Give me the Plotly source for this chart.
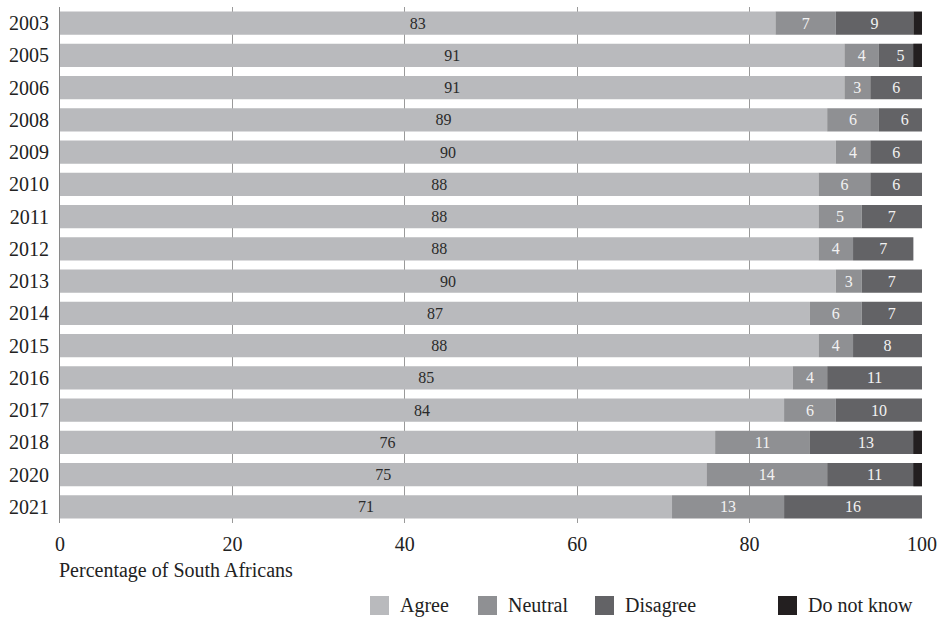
import plotly.graph_objects as go

years = ["2003", "2005", "2006", "2008", "2009", "2010", "2011", "2012",
         "2013", "2014", "2015", "2016", "2017", "2018", "2020", "2021"]
agree = [83, 91, 91, 89, 90, 88, 88, 88, 90, 87, 88, 85, 84, 76, 75, 71]
neutral = [7, 4, 3, 6, 4, 6, 5, 4, 3, 6, 4, 4, 6, 11, 14, 13]
disagree = [9, 5, 6, 6, 6, 6, 7, 7, 7, 7, 8, 11, 10, 13, 11, 16]
dont_know = [1, 1, 0, 0, 0, 0, 0, 0, 0, 0, 0, 0, 0, 1, 1, 0]

x_ticks = [0, 20, 40, 60, 80, 100]

C_AGREE = "#b9babd"
C_NEUTRAL = "#8f9093"
C_DISAGREE = "#636366"
C_DK = "#231f20"
FONT = "Liberation Serif"
TXT = 20

base_neutral = agree
base_disagree = [a + n for a, n in zip(agree, neutral)]
base_dk = [100 - d for d in dont_know]

fig = go.Figure()
bar_w = 0.72


def seg(name, vals, base, color, text_color, show_text=True):
    fig.add_trace(go.Bar(
        y=years, x=vals, base=base, orientation="h", name=name,
        marker=dict(color=color, line=dict(width=0)),
        width=bar_w,
        text=[str(v) for v in vals] if show_text else None,
        textposition="inside" if show_text else "none",
        insidetextanchor="middle",
        textangle=0,
        insidetextfont=dict(family=FONT, size=16, color=text_color),
        showlegend=False,
        hoverinfo="x+y+name",
    ))


seg("Agree", agree, [0] * len(years), C_AGREE, "#2a2a2a")
seg("Neutral", neutral, base_neutral, C_NEUTRAL, "#f2f2f2")
seg("Disagree", disagree, base_disagree, C_DISAGREE, "#f2f2f2")
seg("Do not know", dont_know, base_dk, C_DK, "#ffffff", show_text=False)

fig.update_layout(
    width=943, height=620,
    margin=dict(l=60, r=21, t=7, b=97),
    barmode="overlay",
    plot_bgcolor="white", paper_bgcolor="white",
    font=dict(family=FONT, size=TXT, color="#222222"),
    uniformtext=dict(minsize=8, mode="show"),
    xaxis=dict(
        range=[0, 100], tickvals=x_ticks, ticktext=[str(t) for t in x_ticks],
        showgrid=True, gridcolor="#9a9a9a", gridwidth=1,
        zeroline=False, showline=False,
        ticks="", ticklabelstandoff=7,
        tickfont=dict(family=FONT, size=TXT, color="#222222"),
        layer="below traces",
    ),
    yaxis=dict(
        categoryorder="array", categoryarray=years, autorange="reversed",
        showgrid=False, zeroline=False,
        showline=True, linecolor="#8a8a8a", linewidth=1,
        ticks="", ticklabelstandoff=6,
        tickfont=dict(family=FONT, size=TXT, color="#222222"),
    ),
)

fig.add_annotation(
    text="Percentage of South Africans", xref="paper", yref="paper",
    x=-3 / 862, y=-(570 - 523) / 516, xanchor="left", yanchor="middle",
    showarrow=False, font=dict(family=FONT, size=TXT, color="#222222"),
)

# legend drawn as swatches with labels along the bottom
legend_items = [("Agree", C_AGREE, 370), ("Neutral", C_NEUTRAL, 478),
                ("Disagree", C_DISAGREE, 595), ("Do not know", C_DK, 778)]
for label, color, px in legend_items:
    fig.add_shape(type="rect", xref="paper", yref="paper",
                  x0=(px - 60) / 862, x1=(px - 60 + 19) / 862,
                  y0=-(596 - 523) / 516, y1=-(615 - 523) / 516,
                  fillcolor=color, line=dict(width=0))
    fig.add_annotation(text=label, xref="paper", yref="paper",
                       x=(px - 60 + 28) / 862, y=-(605 - 523) / 516,
                       xanchor="left", yanchor="middle", showarrow=False,
                       font=dict(family=FONT, size=TXT, color="#222222"))

fig.write_html("out.html")
